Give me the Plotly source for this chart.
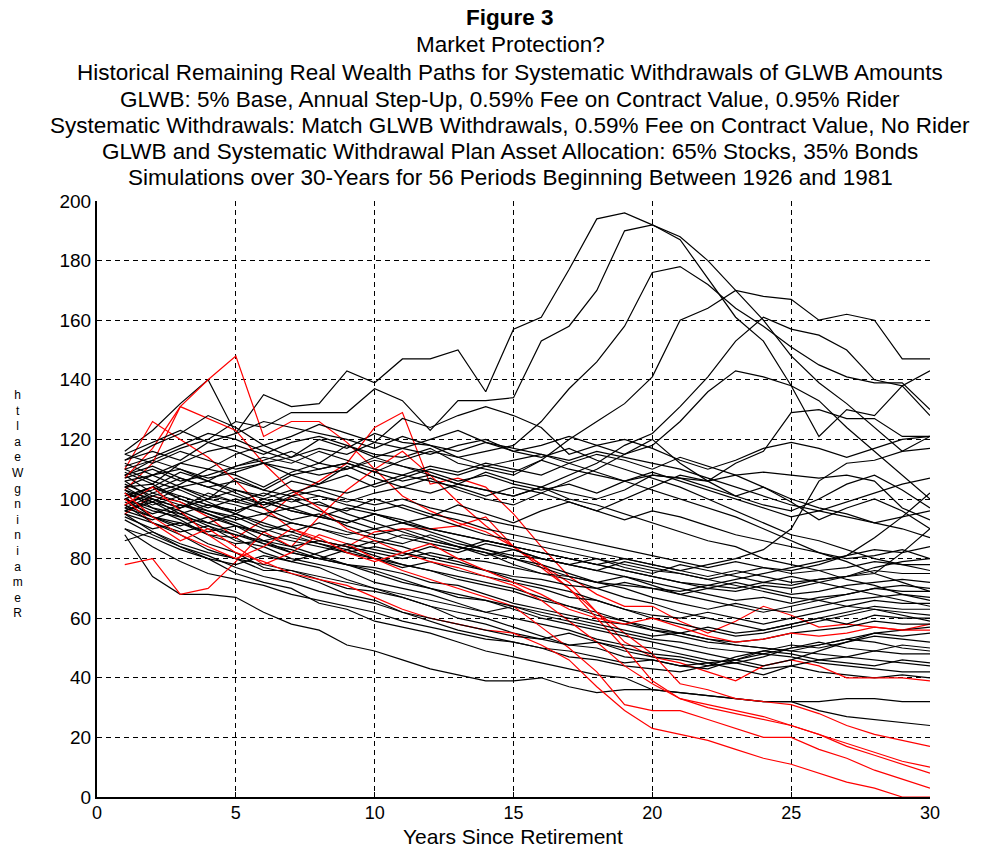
import plotly.graph_objects as go

years = list(range(1, 31))

# ---- black paths (remaining real wealth, GLWB-matched systematic withdrawals) ----
b01 = [116, 123, 132, 140, 122, 135, 131, 132, 143, 139, 147, 147, 150, 136, 157, 161, 177, 194, 196, 192, 187, 174, 161, 153, 138, 121, 130, 128, 138, 128]
b02 = [108, 113, 117, 120, 126, 124, 129, 129, 129, 137, 133, 123, 133, 133, 134, 153, 158, 170, 190, 192, 188, 180, 170, 160, 148, 139, 132, 124, 116, 121]
b03 = [104, 108, 112, 110, 115, 118, 114, 120, 117, 122, 119, 118, 114, 116, 118, 126, 137, 146, 158, 176, 178, 172, 164, 158, 151, 145, 141, 139, 139, 130]
b04 = [100, 104, 109, 106, 111, 113, 116, 112, 118, 115, 114, 117, 112, 110, 108, 113, 120, 126, 132, 141, 160, 164, 170, 168, 167, 160, 162, 160, 147, 147]
b05 = [98, 102, 105, 110, 108, 104, 109, 112, 110, 114, 111, 108, 105, 109, 106, 104, 108, 112, 118, 122, 131, 141, 153, 161, 157, 155, 150, 140, 138, 143]
b06 = [102, 99, 104, 100, 107, 103, 108, 105, 111, 107, 104, 107, 103, 100, 98, 102, 106, 110, 115, 118, 126, 136, 143, 141, 138, 133, 124, 116, 108, 100]
b07 = [96, 100, 97, 102, 99, 97, 101, 98, 96, 100, 97, 94, 98, 95, 92, 96, 99, 96, 100, 104, 108, 106, 112, 116, 129, 130, 127, 127, 121, 121]
b08 = [113, 118, 122, 128, 124, 118, 121, 125, 122, 119, 127, 124, 128, 131, 128, 124, 115, 118, 115, 120, 112, 106, 101, 104, 99, 93, 97, 100, 96, 90]
m01 = [88, 74, 68, 68, 67, 62, 58, 56, 51, 49, 46, 43, 41, 39, 39, 40, 37, 35, 36, 36, 35, 34, 33, 32, 32, 29, 27, 26, 25, 24]
m02 = [95, 89, 84, 80, 75, 72, 70, 65, 63, 59, 57, 55, 52, 49, 47, 45, 43, 41, 40, 36, 35, 34, 33, 32, 32, 32, 33, 33, 32, 32]
m03 = [100, 94, 90, 85, 82, 77, 75, 72, 68, 66, 62, 59, 56, 54, 52, 50, 47, 46, 44, 43, 42, 44, 45, 43, 44, 42, 41, 40, 41, 40]
m04 = [103, 97, 93, 88, 87, 82, 79, 77, 73, 70, 67, 64, 62, 60, 57, 54, 51, 50, 47, 46, 44, 45, 43, 41, 44, 46, 45, 44, 46, 45]
m05 = [98, 92, 88, 83, 80, 76, 76, 73, 70, 69, 67, 64, 60, 58, 55, 53, 55, 52, 49, 47, 46, 44, 47, 49, 48, 46, 47, 49, 48, 48]
m06 = [106, 100, 95, 91, 86, 84, 80, 78, 76, 72, 70, 68, 65, 62, 60, 58, 56, 53, 51, 50, 48, 46, 45, 47, 50, 52, 50, 49, 51, 50]
m07 = [90, 84, 79, 75, 73, 71, 68, 66, 64, 62, 59, 57, 55, 53, 52, 50, 49, 47, 45, 46, 44, 43, 46, 49, 51, 50, 52, 54, 53, 52]
m08 = [108, 102, 99, 95, 92, 88, 84, 81, 78, 76, 73, 70, 68, 66, 63, 60, 58, 56, 54, 52, 50, 48, 46, 44, 46, 49, 52, 55, 54, 55]
m09 = [96, 99, 94, 90, 88, 85, 82, 80, 78, 77, 75, 72, 71, 68, 65, 63, 61, 59, 58, 56, 54, 52, 51, 50, 49, 51, 53, 55, 56, 57]
m10 = [104, 105, 100, 96, 94, 90, 87, 85, 82, 80, 78, 76, 74, 72, 70, 67, 64, 62, 59, 56, 55, 53, 52, 53, 55, 56, 57, 59, 58, 58]
m11 = [110, 106, 103, 99, 95, 92, 89, 86, 84, 81, 78, 76, 73, 71, 69, 66, 64, 61, 59, 57, 55, 57, 55, 56, 58, 60, 58, 61, 60, 60]
m12 = [99, 95, 98, 95, 91, 86, 88, 85, 83, 86, 84, 81, 79, 76, 73, 71, 69, 66, 63, 60, 58, 56, 54, 55, 57, 59, 61, 63, 62, 61]
m13 = [101, 104, 100, 97, 100, 97, 93, 95, 91, 88, 90, 87, 84, 82, 78, 75, 73, 70, 67, 65, 62, 60, 58, 56, 58, 60, 62, 64, 63, 63]
m14 = [94, 90, 92, 88, 85, 86, 82, 80, 83, 80, 77, 79, 76, 74, 72, 70, 67, 66, 63, 61, 60, 62, 60, 58, 60, 62, 64, 66, 65, 65]
m15 = [106, 108, 104, 106, 102, 98, 100, 96, 93, 90, 92, 89, 86, 83, 80, 78, 75, 72, 70, 67, 65, 63, 65, 63, 62, 64, 66, 67, 68, 67]
m16 = [112, 108, 110, 106, 103, 100, 97, 99, 95, 92, 89, 86, 84, 82, 80, 77, 74, 72, 74, 71, 68, 66, 64, 62, 64, 66, 68, 70, 69, 69]
m17 = [100, 96, 94, 92, 95, 91, 89, 92, 89, 87, 85, 88, 85, 83, 81, 80, 78, 76, 74, 72, 70, 68, 66, 67, 65, 67, 68, 70, 71, 70]
m18 = [103, 100, 97, 100, 98, 95, 97, 94, 92, 95, 93, 90, 88, 86, 84, 82, 80, 78, 76, 74, 72, 70, 72, 70, 68, 69, 71, 72, 73, 72]
m19 = [97, 101, 104, 101, 99, 102, 99, 101, 98, 96, 98, 95, 93, 90, 88, 86, 84, 82, 80, 78, 76, 74, 76, 74, 72, 73, 74, 76, 75, 75]
m20 = [108, 111, 107, 104, 106, 103, 101, 103, 100, 98, 100, 97, 95, 93, 91, 89, 87, 85, 83, 81, 79, 77, 79, 77, 75, 76, 77, 79, 78, 78]
m21 = [95, 92, 89, 91, 88, 86, 84, 86, 84, 82, 80, 82, 80, 79, 77, 75, 74, 72, 71, 70, 68, 70, 69, 71, 70, 72, 74, 77, 79, 80]
m22 = [102, 98, 101, 98, 96, 99, 96, 94, 97, 95, 92, 94, 91, 88, 86, 84, 82, 80, 78, 76, 75, 73, 75, 77, 76, 78, 81, 83, 82, 84]
m23 = [105, 101, 98, 96, 93, 95, 92, 90, 88, 90, 87, 85, 83, 86, 84, 82, 80, 78, 76, 74, 72, 71, 70, 72, 71, 73, 74, 75, 82, 90]
m24 = [110, 113, 110, 107, 109, 112, 110, 108, 110, 113, 111, 109, 106, 108, 105, 103, 105, 102, 106, 108, 107, 106, 108, 109, 108, 107, 108, 106, 97, 93]
m25 = [98, 94, 92, 89, 91, 88, 86, 84, 82, 84, 82, 80, 78, 76, 74, 73, 71, 70, 72, 70, 69, 71, 73, 75, 77, 79, 81, 87, 94, 102]
m26 = [101, 104, 101, 98, 96, 99, 96, 94, 92, 95, 92, 90, 88, 86, 84, 82, 80, 78, 80, 78, 76, 78, 80, 83, 90, 106, 112, 113, 116, 117]
m27 = [100, 97, 95, 98, 95, 100, 103, 101, 99, 102, 104, 102, 105, 103, 101, 104, 102, 100, 103, 108, 107, 104, 101, 98, 96, 100, 105, 108, 103, 97]
m28 = [113, 116, 113, 119, 116, 112, 114, 117, 115, 119, 117, 115, 118, 120, 116, 114, 117, 113, 110, 107, 104, 100, 96, 92, 88, 86, 83, 80, 78, 76]
m29 = [115, 112, 116, 113, 110, 112, 108, 110, 112, 109, 113, 116, 114, 111, 113, 115, 112, 109, 106, 103, 100, 97, 94, 90, 86, 82, 79, 75, 72, 69]
m30 = [111, 114, 118, 122, 120, 116, 113, 110, 112, 109, 106, 108, 105, 103, 101, 104, 100, 98, 95, 92, 89, 86, 84, 80, 78, 76, 73, 71, 68, 66]
m31 = [107, 110, 106, 108, 111, 114, 112, 116, 113, 110, 108, 111, 109, 112, 110, 108, 112, 115, 113, 110, 114, 111, 108, 104, 100, 97, 95, 92, 90, 87]
m32 = [96, 93, 97, 100, 103, 101, 106, 104, 102, 105, 108, 106, 104, 101, 104, 102, 99, 96, 93, 96, 94, 91, 88, 86, 84, 82, 80, 81, 83, 80]
m33 = [90, 87, 83, 80, 78, 81, 79, 82, 85, 83, 81, 84, 82, 85, 83, 80, 78, 76, 79, 77, 75, 73, 71, 69, 67, 66, 64, 63, 61, 59]
m34 = [86, 89, 85, 82, 80, 78, 76, 74, 72, 70, 68, 66, 64, 62, 64, 62, 60, 58, 56, 54, 55, 53, 51, 50, 49, 48, 47, 46, 45, 44]
m35 = [93, 88, 84, 81, 77, 74, 72, 69, 67, 65, 62, 60, 58, 56, 54, 53, 51, 52, 50, 48, 47, 45, 46, 48, 47, 45, 44, 43, 42, 42]
m36 = [104, 99, 96, 92, 89, 85, 83, 80, 78, 75, 72, 70, 67, 66, 64, 61, 59, 57, 55, 53, 52, 50, 49, 48, 50, 51, 53, 52, 50, 49]
m37 = [115, 119, 123, 119, 122, 126, 124, 122, 120, 117, 121, 118, 116, 119, 117, 115, 113, 116, 114, 112, 110, 107, 104, 101, 98, 96, 94, 92, 94, 96]
m38 = [109, 105, 112, 116, 118, 115, 119, 121, 118, 114, 117, 120, 123, 119, 116, 118, 121, 118, 120, 117, 113, 110, 113, 117, 119, 117, 114, 117, 120, 121]
m39 = [100, 103, 107, 104, 101, 98, 102, 105, 108, 104, 107, 110, 108, 111, 109, 113, 110, 108, 106, 109, 106, 103, 100, 97, 94, 96, 99, 102, 105, 107]
m40 = [97, 94, 91, 94, 91, 89, 92, 90, 87, 85, 88, 86, 84, 81, 83, 80, 78, 80, 77, 75, 78, 76, 74, 72, 74, 72, 70, 68, 66, 64]

# ---- red paths ----
r01 = [103, 112, 131, 140, 148, 121, 126, 126, 119, 110, 101, 96, 92, 89, 84, 78, 72, 62, 52, 47, 45, 42, 39, 44, 46, 44, 40, 40, 40, 39]
r02 = [95, 101, 99, 94, 87, 93, 101, 106, 112, 124, 129, 105, 107, 104, 95, 84, 74, 68, 64, 64, 59, 55, 59, 64, 61, 57, 58, 57, 56, 58]
r03 = [110, 126, 120, 114, 106, 97, 90, 86, 84, 89, 90, 90, 91, 94, 84, 77, 70, 62, 55, 48, 38, 36, 33, 32, 31, 28, 24, 21, 19, 17]
r04 = [78, 80, 68, 70, 79, 89, 84, 94, 103, 110, 116, 108, 99, 91, 84, 78, 70, 60, 50, 39, 33, 31, 29, 27, 24, 21, 18, 15, 12, 10]
r05 = [107, 117, 131, 127, 123, 112, 103, 97, 90, 86, 82, 79, 77, 74, 71, 66, 59, 52, 44, 38, 33, 30, 28, 26, 24, 21, 17, 14, 11, 8]
r06 = [100, 92, 86, 90, 84, 78, 82, 88, 85, 80, 76, 73, 70, 67, 64, 57, 50, 42, 31, 29, 29, 26, 23, 20, 20, 16, 13, 9, 6, 3]
r07 = [98, 104, 96, 88, 82, 79, 75, 73, 71, 67, 63, 60, 58, 56, 55, 51, 46, 37, 29, 23, 21, 19, 16, 13, 11, 8, 5, 3, 0, 0]
r08 = [102, 94, 88, 84, 80, 84, 90, 87, 82, 79, 82, 85, 80, 76, 72, 68, 63, 60, 58, 60, 57, 54, 52, 53, 55, 54, 55, 57, 56, 56]

x_ticks = [0, 5, 10, 15, 20, 25, 30]
y_ticks = [0, 20, 40, 60, 80, 100, 120, 140, 160, 180, 200]

title_lines = [
    "<b>Figure 3</b>",
    "Market Protection?",
    "Historical Remaining Real Wealth Paths for Systematic Withdrawals of GLWB Amounts",
    "GLWB: 5% Base, Annual Step-Up, 0.59% Fee on Contract Value, 0.95% Rider",
    "Systematic Withdrawals: Match GLWB Withdrawals, 0.59% Fee on Contract Value, No Rider",
    "GLWB and Systematic Withdrawal Plan Asset Allocation: 65% Stocks, 35% Bonds",
    "Simulations over 30-Years for 56 Periods Beginning Between 1926 and 1981",
]
x_title = "Years Since Retirement"
y_title = "Remaining Wealth"

black_paths = [b01, b02, m01, m02, b03, m03, m04, m05, b04, m06, m07, m08, m09, b05,
               m10, m11, m12, m13, m14, b06, m15, m16, m17, m18, m19, m20, b07, m21,
               m22, m23, m24, m25, m26, b08, m27, m28, m29, m30, m31, m32, m33, m34,
               m35, m36, m37, m38, m39, m40]
red_paths = [r01, r02, r03, r04, r05, r06, r07, r08]

# interleave drawing order (paths ordered by start year)
order = []
bi = 0
for rp in red_paths:
    for _ in range(6):
        if bi < len(black_paths):
            order.append((black_paths[bi], "black"))
            bi += 1
    order.append((rp, "red"))
while bi < len(black_paths):
    order.append((black_paths[bi], "black"))
    bi += 1

FONT = "Liberation Sans, Arial, sans-serif"

fig = go.Figure()
for vals, col in order:
    fig.add_trace(go.Scatter(x=years, y=vals, mode="lines",
                             line=dict(color="#ff0000" if col == "red" else "#000000", width=1.2),
                             hoverinfo="skip", showlegend=False))

L, R, T, B = 97, 55, 201, 53
W, H = 985, 850
ph = H - T - B
pw = W - L - R

def ypix(p):
    return (H - B - p) / ph

def xpix(p):
    return (p - L) / pw

title_pix = [17, 44, 72, 99, 125, 151, 177]
for txt, p in zip(title_lines, title_pix):
    fig.add_annotation(text=txt, xref="paper", yref="paper", x=xpix(510), y=ypix(p),
                       xanchor="center", yanchor="middle", showarrow=False,
                       font=dict(family=FONT, size=22.5, color="black"))

fig.add_annotation(text=x_title, xref="paper", yref="paper", x=xpix(513), y=ypix(849),
                   xanchor="center", yanchor="bottom", showarrow=False, borderpad=0,
                   font=dict(family=FONT, size=21, color="black"))

# y-axis label drawn as one column of stacked, upright letters (read bottom-to-top)
stack = "<br>".join(list(y_title.replace(" ", ""))[::-1])
fig.add_annotation(text=stack, xref="paper", yref="paper", x=xpix(18), y=ypix(504),
                   xanchor="center", yanchor="middle", showarrow=False, align="center",
                   font=dict(family=FONT, size=12, color="black"))

axis_common = dict(showgrid=True, gridcolor="black", gridwidth=1, griddash="5px,4px",
                   showline=True, linecolor="black", linewidth=2, mirror=False,
                   ticks="inside", ticklen=5, tickcolor="black", zeroline=False)

fig.update_layout(
    width=W, height=H,
    margin=dict(l=L, r=R, t=T, b=B),
    paper_bgcolor="white", plot_bgcolor="white",
    xaxis=dict(range=[0, 30], tickvals=x_ticks, ticklabelstandoff=-2,
               tickfont=dict(family=FONT, size=18, color="black"), **axis_common),
    yaxis=dict(range=[0, 200], tickvals=y_ticks,
               tickfont=dict(family=FONT, size=19, color="black"), **axis_common),
    showlegend=False,
)

fig.write_html("out.html")
